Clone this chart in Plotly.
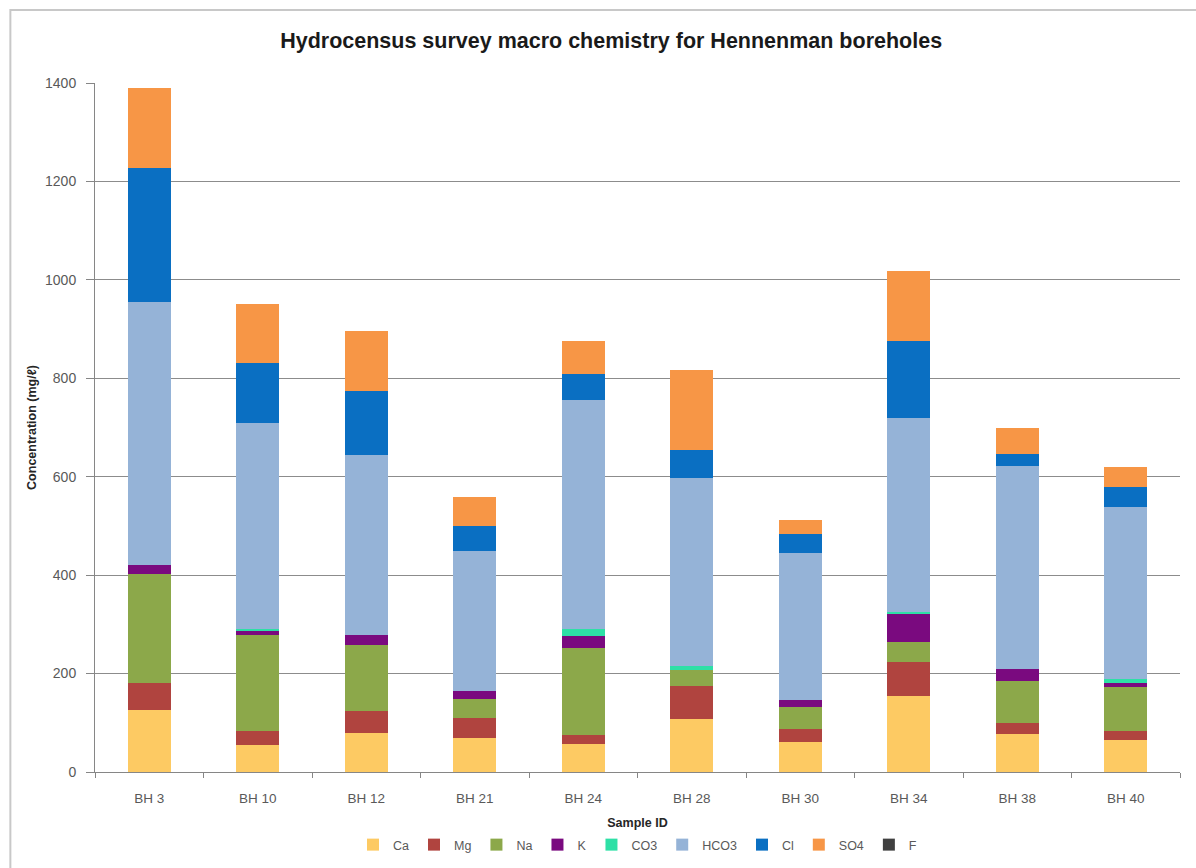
import plotly.graph_objects as go

samples = ["BH 3", "BH 10", "BH 12", "BH 21", "BH 24", "BH 28", "BH 30", "BH 34", "BH 38", "BH 40"]

ca   = [127, 54, 80, 70, 57, 107, 60, 154, 77, 66]
mg   = [53, 29, 44, 39, 18, 68, 28, 69, 22, 17]
na   = [222, 195, 134, 39, 176, 33, 44, 41, 85, 89]
k    = [18, 10, 20, 16, 26, 0, 14, 57, 25, 8]
co3  = [0, 2, 0, 0, 14, 8, 0, 5, 0, 8]
hco3 = [535, 419, 366, 285, 464, 382, 298, 393, 412, 350]
cl   = [273, 122, 131, 51, 54, 57, 39, 156, 26, 41]
so4  = [162, 119, 121, 59, 67, 161, 29, 143, 51, 40]
f    = [0, 0, 0, 0, 0, 0, 0, 0, 0, 0]

series = [
    ("Ca", ca, "#FDCA63"),
    ("Mg", mg, "#B0443F"),
    ("Na", na, "#8CA84A"),
    ("K", k, "#7A0A7F"),
    ("CO3", co3, "#2EE0A6"),
    ("HCO3", hco3, "#95B3D7"),
    ("Cl", cl, "#0A6FC2"),
    ("SO4", so4, "#F79646"),
    ("F", f, "#404040"),
]

FONT = "Liberation Sans"

fig = go.Figure()
for name, vals, col in series:
    fig.add_trace(go.Bar(
        x=samples, y=vals, name=name,
        marker=dict(color=col, line=dict(width=0)),
    ))

fig.update_layout(
    barmode="stack",
    bargap=0.6,
    width=1196, height=868,
    margin=dict(l=95, r=16, t=83, b=96),
    paper_bgcolor="white",
    plot_bgcolor="white",
    font=dict(family=FONT, color="#404040"),
    title=dict(
        text="<b>Hydrocensus survey macro chemistry for Hennenman boreholes</b>",
        x=0.511, xanchor="center", y=1 - 40 / 868, yanchor="middle",
        font=dict(size=21.5, color="#1a1a1a", family=FONT),
    ),
    xaxis=dict(
        type="category",
        automargin=False,
        tickson="boundaries",
        ticks="outside", ticklen=5, tickcolor="#868686",
        ticklabelstandoff=14,
        showline=True, linecolor="#868686", linewidth=1,
        tickfont=dict(size=13.5, color="#595959"),
        title=dict(text="<b>Sample ID</b>", font=dict(size=12.5, color="#262626"), standoff=22),
    ),
    yaxis=dict(
        automargin=False,
        range=[0, 1400],
        tickvals=[0, 200, 400, 600, 800, 1000, 1200, 1400],
        ticks="outside", ticklen=8, tickcolor="#868686",
        ticklabelstandoff=7,
        showline=True, linecolor="#868686", linewidth=1,
        showgrid=True, gridcolor="#8c8c8c", gridwidth=1,
        zeroline=False,
        tickfont=dict(size=14, color="#595959"),
        title=dict(text="<b>Concentration (mg/ℓ)</b>", font=dict(size=12.5, color="#262626"), standoff=5),
    ),
    legend=dict(
        orientation="h",
        x=0.5, xanchor="center",
        yref="container",
        y=(868 - 845) / 868, yanchor="middle",
        font=dict(size=12.5, color="#595959"),
        itemwidth=30,
        traceorder="normal",
    ),
    shapes=[dict(
        type="rect", xref="paper", yref="paper",
        x0=-0.078, x1=1.03, y0=-0.2, y1=1.106,
        line=dict(color="#c8c8c8", width=2),
        fillcolor="rgba(0,0,0,0)", layer="below",
    )],
)

fig.write_html(
    "out.html",
    config={"displayModeBar": False},
    post_script="document.body.style.margin='0px';document.body.style.padding='0px';",
)
